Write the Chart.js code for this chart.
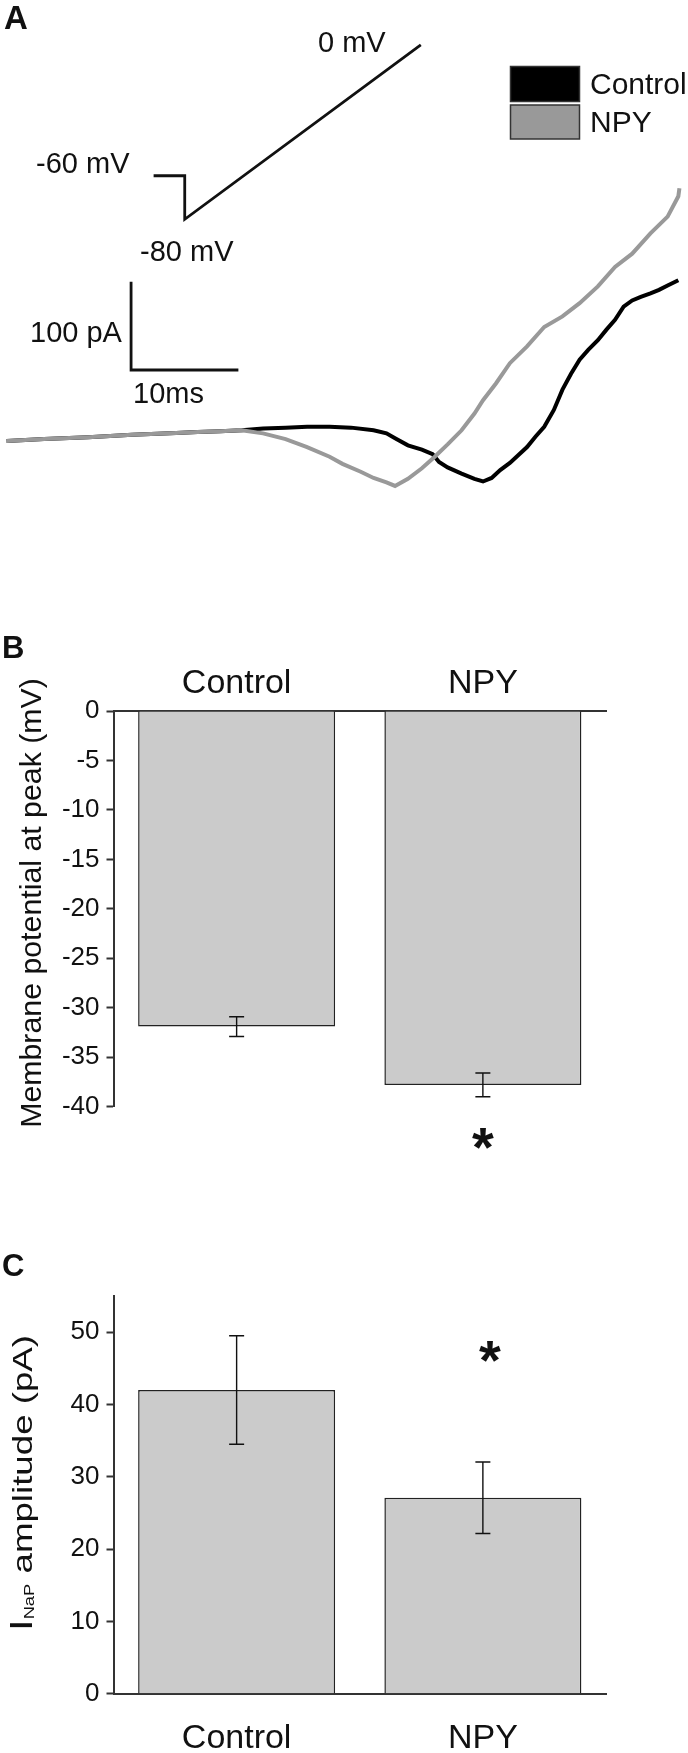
<!DOCTYPE html>
<html>
<head>
<meta charset="utf-8">
<script src="https://cdn.jsdelivr.net/npm/chart.js@4.4.1/dist/chart.umd.min.js"></script>
<style>
  html, body { margin: 0; padding: 0; background: #fff; width: 688px; height: 1753px; overflow: hidden; }
  .panel { position: absolute; left: 0; width: 688px; }
  #panelA { top: 0; height: 520px; }
  #panelB { top: 600px; height: 590px; }
  #panelC { top: 1190px; height: 563px; }
</style>
</head>
<body>
<div class="panel" id="panelA"><canvas id="chartA" width="688" height="520"></canvas></div>
<div class="panel" id="panelB"><canvas id="chartB" width="688" height="590"></canvas></div>
<div class="panel" id="panelC"><canvas id="chartC" width="688" height="563"></canvas></div>
<script>
const FONT = "'Liberation Sans', Arial, sans-serif";

// A: current traces during the ramp (time in ms, current in pA)
const controlTime = [0, 3.5, 7.6, 11.7, 15.8, 17.8, 19.9, 21.9, 23.9, 26.0, 28.0, 30.1, 32.1, 34.2, 35.4,
  36.2, 37.4, 38.7, 39.7, 40.3, 41.1, 42.4, 43.6, 44.4, 45.2, 46.0, 46.9, 47.7, 48.5, 49.3,
  50.1, 51.0, 51.8, 52.6, 53.4, 54.2, 55.1, 55.9, 56.7, 57.5, 58.3, 59.1, 60.0, 60.8, 61.6, 62.6];
const controlCurrent = [-1, 1, 3, 6, 8, 9, 10, 11, 13, 14, 15, 15, 14, 11, 7.5,
  2, -6, -11, -16, -25, -31, -38, -44, -47, -43, -34, -26, -17, -8, 4,
  15, 34, 57, 75, 91, 102, 113, 125, 136, 151, 158, 162, 166, 170, 175, 181];
const npyTime = [0, 3.5, 7.6, 11.7, 15.8, 17.8, 19.9, 21.9, 23.9, 26.0, 28.0, 30.1, 31.3, 33.0, 34.2,
  35.4, 36.2, 37.4, 38.7, 39.9, 41.1, 42.4, 43.6, 44.4, 45.6, 46.9, 48.5, 50.1,
  51.8, 53.4, 55.1, 56.7, 58.3, 60.0, 61.6, 62.6, 62.7];
const npyCurrent = [-1, 1, 3, 6, 8, 9, 10, 11, 7.5, 1, -8, -19, -27, -36, -43,
  -48, -52, -44, -32, -19, -5, 11, 30, 45, 64, 87, 106, 128,
  140, 155, 174, 196, 211, 234, 253, 276, 285];

// A: voltage protocol (ms, mV) and scale bar (10 ms, 100 pA)
const protocolTime = [13.7, 16.6, 16.6, 38.6];
const protocolVoltage = [-60, -60, -80, 0];
const scaleBarTime = [21.6, 11.6, 11.6];
const scaleBarCurrent = [79.3, 79.3, 179.3];

// B and C: bar values (mean) and error (SEM)
const categories = ['Control', 'NPY'];
const peakPotential = [-31.9, -37.8];
const peakPotentialErr = [1.0, 1.2];
const napAmplitude = [42.0, 27.1];
const napAmplitudeErr = [7.5, 4.95];
const potentialTicks = [0, -5, -10, -15, -20, -25, -30, -35, -40];
const amplitudeTicks = [0, 10, 20, 30, 40, 50];

Chart.defaults.font.family = FONT;
Chart.defaults.color = '#111';

const toPoints = (xs, ys) => xs.map((x, i) => ({ x: x, y: ys[i] }));

// free text drawn on the canvas (panel letters, annotations, legend)
const figureText = {
  id: 'figureText',
  afterDraw(chart, args, opts) {
    const ctx = chart.ctx;
    ctx.save();
    ctx.textBaseline = 'alphabetic';
    (opts.items || []).forEach(t => {
      ctx.fillStyle = '#111';
      ctx.font = (t.bold ? 'bold ' : '') + t.size + 'px ' + FONT;
      ctx.textAlign = t.align || 'left';
      ctx.fillText(t.text, t.x, t.y);
    });
    (opts.boxes || []).forEach(b => {
      ctx.fillStyle = b.fill;
      ctx.fillRect(b.x, b.y, b.w, b.h);
      ctx.strokeStyle = '#333';
      ctx.lineWidth = 1.5;
      ctx.strokeRect(b.x, b.y, b.w, b.h);
    });
    ctx.restore();
  }
};

const errorBars = {
  id: 'errorBars',
  afterDatasetsDraw(chart, args, opts) {
    if (!opts.errors) return;
    const ctx = chart.ctx;
    const y = chart.scales.y;
    const bars = chart.getDatasetMeta(0).data;
    const values = chart.data.datasets[0].data;
    ctx.save();
    ctx.strokeStyle = '#111';
    ctx.lineWidth = 1.4;
    bars.forEach((bar, i) => {
      const top = y.getPixelForValue(values[i] + opts.errors[i]);
      const bot = y.getPixelForValue(values[i] - opts.errors[i]);
      ctx.beginPath();
      ctx.moveTo(bar.x, top); ctx.lineTo(bar.x, bot);
      ctx.moveTo(bar.x - 7.5, top); ctx.lineTo(bar.x + 7.5, top);
      ctx.moveTo(bar.x - 7.5, bot); ctx.lineTo(bar.x + 7.5, bot);
      ctx.stroke();
    });
    ctx.restore();
  }
};

// significance star, placed in value coordinates next to a bar
const starMark = {
  id: 'starMark',
  afterDraw(chart, args, opts) {
    if (opts.index === undefined) return;
    const ctx = chart.ctx;
    const bar = chart.getDatasetMeta(0).data[opts.index];
    const cy = chart.scales.y.getPixelForValue(opts.value);
    ctx.save();
    ctx.font = 'bold 56px ' + FONT;
    ctx.textAlign = 'center';
    ctx.textBaseline = 'alphabetic';
    ctx.fillStyle = '#111';
    const m = ctx.measureText('*');
    const base = cy - (m.actualBoundingBoxDescent - m.actualBoundingBoxAscent) / 2;
    ctx.fillText('*', bar.x + (opts.dx || 0), base);
    ctx.restore();
  }
};

// rotated y axis title, can hold a subscript part
const axisTitle = {
  id: 'axisTitle',
  afterDraw(chart, args, opts) {
    if (!opts.parts) return;
    const ctx = chart.ctx;
    const parts = [];
    for (let i = 0; i < opts.parts.length; i++) {
      const p = opts.parts[i];
      parts.push({ text: String(p.text), size: Number(p.size), shift: Number(p.shift || 0) });
    }
    ctx.save();
    ctx.fillStyle = '#111';
    ctx.textBaseline = 'alphabetic';
    ctx.textAlign = 'left';
    let total = 0;
    const widths = parts.map(p => {
      ctx.font = p.size + 'px ' + FONT;
      const w = ctx.measureText(p.text).width;
      total += w;
      return w;
    });
    ctx.translate(opts.x, opts.y);
    ctx.rotate(-Math.PI / 2);
    ctx.scale(opts.stretch, 1);
    let cx = -total / 2;
    parts.forEach((p, i) => {
      ctx.font = p.size + 'px ' + FONT;
      ctx.fillText(p.text, cx, p.shift);
      cx += widths[i];
    });
    ctx.restore();
  }
};

// ---------- A: traces ----------
new Chart(document.getElementById('chartA'), {
  type: 'line',
  data: {
    datasets: [
      { label: 'NPY', data: toPoints(npyTime, npyCurrent), borderColor: '#999999', borderWidth: 4, order: 0 },
      { label: 'Control', data: toPoints(controlTime, controlCurrent), borderColor: '#000000', borderWidth: 4, order: 1 },
      { label: 'protocol', data: toPoints(protocolTime, protocolVoltage), yAxisID: 'yV', borderColor: '#111', borderWidth: 2.8, order: 2 },
      { label: 'scale', data: toPoints(scaleBarTime, scaleBarCurrent), borderColor: '#111', borderWidth: 2.8, order: 3 }
    ]
  },
  options: {
    responsive: false,
    animation: false,
    layout: { padding: 0 },
    elements: { point: { radius: 0 }, line: { tension: 0, borderJoinStyle: 'miter', borderCapStyle: 'butt' } },
    plugins: {
      legend: { display: false },
      tooltip: { enabled: false },
      figureText: {
        items: [
          { text: 'A', x: 4, y: 29, size: 33, bold: true },
          { text: '0 mV', x: 318, y: 52, size: 29 },
          { text: '-60 mV', x: 36, y: 173, size: 29 },
          { text: '-80 mV', x: 140, y: 261, size: 29 },
          { text: '100 pA', x: 30, y: 342, size: 29 },
          { text: '10ms', x: 133, y: 403, size: 29 },
          { text: 'Control', x: 590, y: 94, size: 30 },
          { text: 'NPY', x: 590, y: 131.5, size: 30 }
        ],
        boxes: [
          { x: 510.5, y: 66.5, w: 69, h: 35, fill: '#000000' },
          { x: 510.5, y: 105, w: 69, h: 34, fill: '#999999' }
        ]
      }
    },
    scales: {
      x: { type: 'linear', display: false, min: -0.615, max: 63.5 },
      y: { type: 'linear', display: false, min: -90.6, max: 498.3 },
      yV: { type: 'linear', display: false, min: -218.0, max: 20.65 }
    }
  },
  plugins: [figureText]
});

// ---------- B: membrane potential at peak ----------
new Chart(document.getElementById('chartB'), {
  type: 'bar',
  data: {
    labels: categories,
    datasets: [{
      data: peakPotential,
      backgroundColor: '#cbcbcb',
      borderColor: '#222',
      borderWidth: 1.5,
      barPercentage: 0.8,
      categoryPercentage: 1
    }]
  },
  options: {
    responsive: false,
    animation: false,
    layout: { padding: { left: 0, right: 82, top: 0, bottom: 83.3 } },
    plugins: {
      legend: { display: false },
      tooltip: { enabled: false },
      errorBars: { errors: peakPotentialErr },
      starMark: { index: 1, value: -43.2 },
      axisTitle: { parts: [{ text: 'Membrane potential at peak (mV)', size: 29, shift: 0 }], x: 41, y: 303, stretch: 1.045 },
      figureText: { items: [{ text: 'B', x: 2, y: 57.5, size: 31, bold: true }] }
    },
    scales: {
      x: {
        position: 'top',
        grid: { display: false, drawTicks: false },
        border: { display: true, color: '#333', width: 2 },
        ticks: { font: { size: 34 }, color: '#111', padding: 7 },
        afterFit: s => { s.height = 111; }
      },
      y: {
        min: -40, max: 0, position: 'left', weight: 0,
        grid: { drawOnChartArea: false, tickLength: 7, tickWidth: 2, tickColor: '#333' },
        border: { color: '#333', width: 2 },
        ticks: { font: { size: 26 }, color: '#111', padding: 7 },
        afterBuildTicks: s => { s.ticks = potentialTicks.map(v => ({ value: v })); },
        afterFit: s => { s.width = 113.5; }
      },
      yMinor: {
        min: -40, max: 0, position: 'left', weight: 1,
        grid: { drawOnChartArea: false, tickLength: 4.5, tickWidth: 2, tickColor: '#333' },
        border: { display: false },
        ticks: { display: false, stepSize: 2.5 },
        afterFit: s => { s.width = 0; }
      }
    }
  },
  plugins: [errorBars, starMark, axisTitle, figureText]
});

// ---------- C: INaP amplitude ----------
new Chart(document.getElementById('chartC'), {
  type: 'bar',
  data: {
    labels: categories,
    datasets: [{
      data: napAmplitude,
      backgroundColor: '#cbcbcb',
      borderColor: '#222',
      borderWidth: 1.5,
      barPercentage: 0.8,
      categoryPercentage: 1
    }]
  },
  options: {
    responsive: false,
    animation: false,
    layout: { padding: { left: 0, right: 82, top: 106, bottom: 0 } },
    plugins: {
      legend: { display: false },
      tooltip: { enabled: false },
      errorBars: { errors: napAmplitudeErr },
      starMark: { index: 1, value: 47.3, dx: 7 },
      axisTitle: {
        parts: [
          { text: 'I', size: 32, shift: 0 },
          { text: 'NaP', size: 14, shift: 2 },
          { text: ' amplitude (pA)', size: 28, shift: 0 }
        ],
        x: 31.7, y: 293, stretch: 1.31
      },
      figureText: { items: [{ text: 'C', x: 2, y: 86, size: 31, bold: true }] }
    },
    scales: {
      x: {
        position: 'bottom',
        grid: { display: false, drawTicks: false },
        border: { display: true, color: '#333', width: 2 },
        ticks: { font: { size: 34 }, color: '#111', padding: 25 },
        afterFit: s => { s.height = 59.3; }
      },
      y: {
        min: 0, max: 55, position: 'left', weight: 0,
        grid: { drawOnChartArea: false, tickLength: 7, tickWidth: 2, tickColor: '#333' },
        border: { color: '#333', width: 2 },
        ticks: { font: { size: 26 }, color: '#111', padding: 7 },
        afterBuildTicks: s => { s.ticks = amplitudeTicks.map(v => ({ value: v })); },
        afterFit: s => { s.width = 113.5; }
      },
      yMinor: {
        min: 0, max: 55, position: 'left', weight: 1,
        grid: { drawOnChartArea: false, tickLength: 4.5, tickWidth: 2, tickColor: '#333' },
        border: { display: false },
        ticks: { display: false, stepSize: 5 },
        afterFit: s => { s.width = 0; }
      }
    }
  },
  plugins: [errorBars, starMark, axisTitle, figureText]
});
</script>
</body>
</html>
